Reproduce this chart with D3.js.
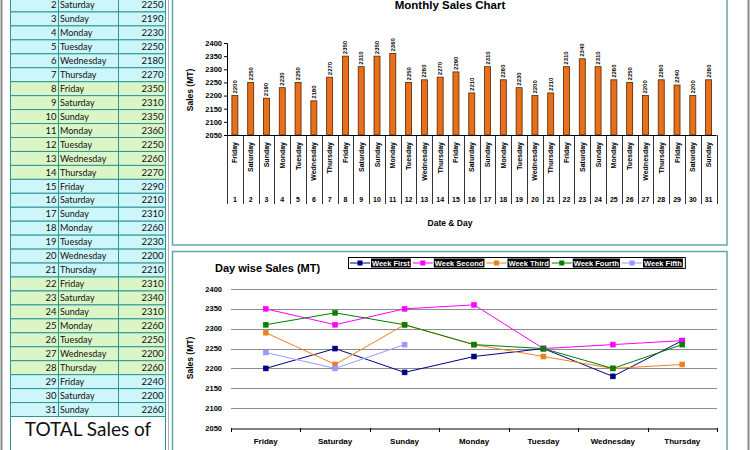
<!DOCTYPE html>
<html><head><meta charset="utf-8">
<script src="https://cdn.jsdelivr.net/npm/d3@7"></script>
<style>body{margin:0;background:#fff;} svg{display:block;}</style>
</head><body><svg id="c" width="750" height="450"></svg>
<script>
// ---------- DATA ----------
const dates = [1,2,3,4,5,6,7,8,9,10,11,12,13,14,15,16,17,18,19,20,21,22,23,24,25,26,27,28,29,30,31];
const days = ["Friday","Saturday","Sunday","Monday","Tuesday","Wednesday","Thursday",
  "Friday","Saturday","Sunday","Monday","Tuesday","Wednesday","Thursday",
  "Friday","Saturday","Sunday","Monday","Tuesday","Wednesday","Thursday",
  "Friday","Saturday","Sunday","Monday","Tuesday","Wednesday","Thursday",
  "Friday","Saturday","Sunday"];
const sales = [2200,2250,2190,2230,2250,2180,2270,2350,2310,2350,2360,2250,2260,2270,
  2290,2210,2310,2260,2230,2200,2210,2310,2340,2310,2260,2250,2200,2260,2240,2200,2260];
const yTicks = [2050,2100,2150,2200,2250,2300,2350,2400];
const weekDays = ["Friday","Saturday","Sunday","Monday","Tuesday","Wednesday","Thursday"];
const weekNames = ["Week First","Week Second","Week Third","Week Fourth","Week Fifth"];
const weekFirst  = [2200,2250,2190,2230,2250,2180,2270];
const weekSecond = [2350,2310,2350,2360,2250,2260,2270];
const weekThird  = [2290,2210,2310,2260,2230,2200,2210];
const weekFourth = [2310,2340,2310,2260,2250,2200,2260];
const weekFifth  = [2240,2200,2260];
const totalLabel = "TOTAL Sales of";

// ---------- STYLE ----------
const weekColors = ["#000080","#ff00ff","#f0801e","#008000","#9999ff"];
const cyanCell = "#ccf6fa", greenCell = "#dbf6c6", teal = "#2f9494", boxTeal = "#5fa8a8";
const chartFont = "'Liberation Sans', Arial, sans-serif";
const tableFont = "Lato, 'Open Sans', sans-serif";

const svg = d3.select("#c");

// ---------- SHEET FRAME ----------
svg.append("line").attr("x1",1.5).attr("x2",1.5).attr("y1",0).attr("y2",450).attr("stroke","#8a8a8a").attr("stroke-width",2);
svg.append("line").attr("x1",168.5).attr("x2",168.5).attr("y1",0).attr("y2",450).attr("stroke","#b0b0b0");
svg.append("line").attr("x1",748.5).attr("x2",748.5).attr("y1",0).attr("y2",450).attr("stroke","#8a8a8a").attr("stroke-width",2);

// ---------- TABLE ----------
const rowY = d3.scaleLinear().domain([2,32]).range([-2,416.5]);
const colX = [10.5,58.5,118.5,165.5];
const tbl = svg.append("g");
const visible = dates.filter(d=>rowY(d+1)>0);
const rows = tbl.selectAll("g.row").data(visible).join("g");
rows.append("rect")
  .attr("x",colX[0]).attr("width",colX[3]-colX[0])
  .attr("y",d=>rowY(d)).attr("height",d=>rowY(d+1)-rowY(d))
  .attr("fill",d=>Math.floor((d-1)/7)%2===0?cyanCell:greenCell)
  .attr("stroke",teal).attr("stroke-width",1);
const midY = d=>(rowY(d)+rowY(d+1))/2+3.2;
rows.append("text").attr("x",colX[1]-2).attr("y",midY)
  .attr("text-anchor","end").attr("font-family",tableFont).attr("font-size",9.5).attr("fill","#111").text(d=>d);
rows.append("text").attr("x",colX[1]+1.5).attr("y",midY)
  .attr("font-family",tableFont).attr("font-size",9).attr("fill","#111").text(d=>days[dates.indexOf(d)]);
rows.append("text").attr("x",colX[3]-2).attr("y",midY)
  .attr("text-anchor","end").attr("font-family",tableFont).attr("font-size",9.5).attr("fill","#111").text(d=>sales[dates.indexOf(d)]);
tbl.selectAll("line.col").data([colX[1],colX[2]]).join("line")
  .attr("x1",d=>d).attr("x2",d=>d).attr("y1",0).attr("y2",rowY(32)).attr("stroke",teal);
tbl.append("rect").attr("x",colX[0]).attr("y",rowY(32)).attr("width",colX[3]-colX[0]).attr("height",60)
  .attr("fill","#fff").attr("stroke",teal);
tbl.append("text").attr("x",(colX[0]+colX[3])/2).attr("y",436).attr("text-anchor","middle")
  .attr("font-family",tableFont).attr("font-size",19).attr("fill","#111").text(totalLabel);

// ---------- BAR CHART ----------
svg.append("rect").attr("x",172.5).attr("y",-5).attr("width",554.5).attr("height",250)
  .attr("fill","#fff").attr("stroke",boxTeal).attr("stroke-width",1.5);
svg.append("text").attr("x",450).attr("y",9).attr("text-anchor","middle")
  .attr("font-family",chartFont).attr("font-weight","bold").attr("font-size",11.5).text("Monthly Sales Chart");

const xb = d3.scaleBand().domain(dates).range([227,716.5]);
const yb = d3.scaleLinear().domain([2050,2400]).range([135,43]);
const bar = svg.append("g");

const yAxisB = bar.append("g").attr("transform","translate(227,0)")
  .call(d3.axisLeft(yb).tickValues(yTicks).tickFormat(d3.format("d")).tickSize(3).tickPadding(2));
yAxisB.selectAll("text").attr("font-family",chartFont).attr("font-weight","bold").attr("font-size",7.5).attr("fill","#000");
yAxisB.selectAll("path,line").attr("stroke","#000");

bar.selectAll("rect.b").data(dates).join("rect")
  .attr("x",d=>xb(d)+xb.bandwidth()/2-3).attr("width",6)
  .attr("y",(d,i)=>yb(sales[i])).attr("height",(d,i)=>yb(2050)-yb(sales[i]))
  .attr("fill","#e8701c").attr("stroke","#5a2200").attr("stroke-width",0.8);
bar.selectAll("text.v").data(dates).join("text")
  .attr("transform",(d,i)=>`translate(${xb(d)+xb.bandwidth()/2+2},${yb(sales[i])-2}) rotate(-90)`)
  .attr("font-family",chartFont).attr("font-weight","bold").attr("font-size",6).text((d,i)=>sales[i]);

// category (multi-level) axis
bar.append("line").attr("x1",227).attr("x2",716.5).attr("y1",135.5).attr("y2",135.5).attr("stroke","#000");
const bounds = dates.map(d=>xb(d)).concat([xb(31)+xb.bandwidth()]);
bar.selectAll("line.sep").data(bounds).join("line")
  .attr("x1",d=>Math.round(d)+0.5).attr("x2",d=>Math.round(d)+0.5).attr("y1",135).attr("y2",204)
  .attr("stroke","#000").attr("stroke-width",0.8);
bar.selectAll("text.day").data(dates).join("text")
  .attr("transform",(d,i)=>`translate(${xb(d)+xb.bandwidth()/2+2.5},142) rotate(-90)`)
  .attr("text-anchor","end").attr("font-family",chartFont).attr("font-weight","bold").attr("font-size",7)
  .text((d,i)=>days[i]);
bar.selectAll("text.dt").data(dates).join("text")
  .attr("x",d=>xb(d)+xb.bandwidth()/2).attr("y",201.5).attr("text-anchor","middle")
  .attr("font-family",chartFont).attr("font-weight","bold").attr("font-size",7).text(d=>d);
bar.append("text").attr("x",450).attr("y",226).attr("text-anchor","middle")
  .attr("font-family",chartFont).attr("font-weight","bold").attr("font-size",8.5).text("Date & Day");
bar.append("text").attr("transform","translate(193,90) rotate(-90)").attr("text-anchor","middle")
  .attr("font-family",chartFont).attr("font-weight","bold").attr("font-size",8.5).text("Sales (MT)");

// ---------- LINE CHART ----------
svg.append("rect").attr("x",172.5).attr("y",251.5).attr("width",554.5).attr("height",210)
  .attr("fill","#fff").attr("stroke",boxTeal).attr("stroke-width",1.5);
svg.append("text").attr("x",215).attr("y",271.5)
  .attr("font-family",chartFont).attr("font-weight","bold").attr("font-size",11).text("Day wise Sales (MT)");

const xl = d3.scaleBand().domain(weekDays).range([231,717]);
const yl = d3.scaleLinear().domain([2050,2400]).range([428,289]);
const lc = svg.append("g");
lc.selectAll("line.grid").data(yTicks.slice(1)).join("line")
  .attr("x1",231).attr("x2",717).attr("y1",d=>Math.round(yl(d))+0.5).attr("y2",d=>Math.round(yl(d))+0.5)
  .attr("stroke","#8c8c8c").attr("stroke-width",1);
lc.selectAll("text.yt").data(yTicks).join("text")
  .attr("x",222).attr("y",d=>yl(d)+2.6).attr("text-anchor","end")
  .attr("font-family",chartFont).attr("font-weight","bold").attr("font-size",7.5).text(d=>d);
const xAxisL = lc.append("g").attr("transform",`translate(0,${Math.round(yl(2050))+0.5})`)
  .call(d3.axisBottom(xl).tickSize(0).tickPadding(10));
xAxisL.select("path").attr("stroke","#000");
xAxisL.selectAll("text").attr("font-family",chartFont).attr("font-weight","bold").attr("font-size",8).attr("fill","#000");
lc.selectAll("line.tk").data(weekDays.map(d=>xl(d)).concat([717])).join("line")
  .attr("x1",d=>Math.round(d)+0.5).attr("x2",d=>Math.round(d)+0.5)
  .attr("y1",Math.round(yl(2050))).attr("y2",Math.round(yl(2050))+4).attr("stroke","#000");
lc.append("text").attr("transform","translate(193,358) rotate(-90)").attr("text-anchor","middle")
  .attr("font-family",chartFont).attr("font-weight","bold").attr("font-size",8.5).text("Sales (MT)");

const weekSeries = [weekFirst,weekSecond,weekThird,weekFourth,weekFifth];
const lineGen = d3.line().x((v,i)=>xl(weekDays[i])+xl.bandwidth()/2).y(v=>yl(v));
weekSeries.forEach((vals,k)=>{
  const g = lc.append("g");
  g.append("path").attr("d",lineGen(vals)).attr("fill","none").attr("stroke",weekColors[k]).attr("stroke-width",1);
  g.selectAll("rect").data(vals).join("rect")
    .attr("x",(v,i)=>xl(weekDays[i])+xl.bandwidth()/2-2.5).attr("y",v=>yl(v)-2.5)
    .attr("width",5).attr("height",5).attr("fill",weekColors[k]).attr("stroke",weekColors[k]).attr("stroke-width",0.5);
});

// legend
const leg = lc.append("g");
const legBox = leg.append("rect").attr("x",348.5).attr("y",257.5).attr("height",11).attr("fill","#fff").attr("stroke","#000");
let lx = 350;
weekNames.forEach((n,k)=>{
  leg.append("line").attr("x1",lx).attr("x2",lx+20).attr("y1",263).attr("y2",263).attr("stroke",weekColors[k]);
  leg.append("rect").attr("x",lx+7.5).attr("y",260.5).attr("width",5).attr("height",5).attr("fill",weekColors[k]);
  const bg = leg.append("rect").attr("x",lx+21).attr("y",258.5).attr("height",9).attr("fill","#000");
  const t = leg.append("text").attr("x",lx+22).attr("y",266).attr("fill","#fff")
    .attr("font-family",chartFont).attr("font-weight","bold").attr("font-size",7.5).text(n);
  const w = t.node().getComputedTextLength();
  bg.attr("width",w+2);
  lx = lx + 21 + w + 4;
});
legBox.attr("width",lx-348);
</script></body></html>
